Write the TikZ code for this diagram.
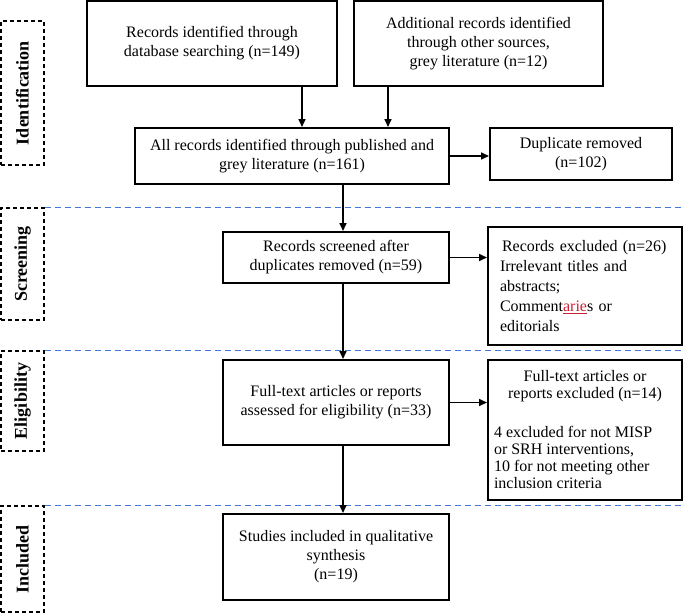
\documentclass[tikz,border=0pt]{standalone}
\usepackage{fontspec}
\setmainfont{Liberation Serif}
\usepackage{xcolor}
\usepackage{tikz}
\usetikzlibrary{arrows.meta}
\setlength{\parindent}{0pt}
\definecolor{sepblue}{RGB}{68,118,218}
\definecolor{spellred}{RGB}{200,30,50}
\tikzstyle{record}=[rectangle, draw=black, line width=2pt, align=center,
        inner sep=2pt, font=\fontsize{16}{19}\selectfont]
\tikzstyle{stage}=[rectangle, draw=black, line width=1.2pt, dash pattern=on 4pt off 3pt,
        minimum width=43pt, font=\bfseries\fontsize{18}{20}\selectfont]
\tikzstyle{flow}=[line width=1.6pt, -{Triangle[width=7pt,length=8pt]}]
\tikzstyle{divider}=[sepblue, line width=1.3pt, dash pattern=on 6pt off 4pt]

\begin{document}
\begin{tikzpicture}[x=1pt, y=-1pt]
        \useasboundingbox (0,0) rectangle (685,613);
        % stages on the left
        \node (ident) [stage, minimum height=144pt] at (22.5,93) {\rotatebox{90}{Identification}};
        \node (screen) [stage, minimum height=112pt] at (22.5,264) {\rotatebox{90}{Screening}};
        \node (elig) [stage, minimum height=100pt] at (22.5,401) {\rotatebox{90}{Eligibility}};
        \node (incl) [stage, minimum height=106pt] at (22.5,559) {\rotatebox{90}{Included}};
        \coordinate (edge) at (685,0);
        \coordinate (spine) at (343,0);
        \draw[divider] (screen.north east) -- (screen.north east -| edge);
        \draw[divider] (elig.north east) -- (elig.north east -| edge);
        \draw[divider] (incl.north east) -- (incl.north east -| edge);
        % records
        \node (dbsearch) [record, minimum width=250pt, minimum height=85pt] at (212,43.5)
        {Records identified through\\database searching (n=149)};
        \node (othersrc) [record, minimum width=249pt, minimum height=85pt] at (478.5,43.5)
        {Additional records identified\\through other sources,\\grey literature (n=12)};
        \node (allrec) [record, minimum width=314pt, minimum height=56pt] at (292,156)
        {All records identified through published and\\grey literature (n=161)};
        \node (dupl) [record, minimum width=182pt, minimum height=52pt] at (581,154)
        {Duplicate removed\\(n=102)};
        \node (screened) [record, minimum width=226pt, minimum height=51pt] at (336,257.5)
        {Records screened after\\duplicates removed (n=59)};
        \node (excl) [record, minimum width=194pt, minimum height=118pt, text width=170pt,
          align=left, font=\fontsize{16}{20}\selectfont] at (585,286)
        {\hspace*{2pt}Records excluded (n=26)\\Irrelevant titles and\\abstracts;\\
          Comment{\color{spellred}\underline{arie}}s or\\editorials};
        \node (fulltext) [record, minimum width=226pt, minimum height=85pt] at (336,402.5)
        {Full-text articles or reports\\assessed for eligibility (n=33)};
        \node (ftexcl) [record, minimum width=194pt, minimum height=140pt, text width=182pt,
          align=none, font=\fontsize{16}{17}\selectfont] at (585,430)
        {
          {\centering Full-text articles or\\reports excluded (n=14)\par}
          \vspace{22pt}
          {\raggedright 4 excluded for not MISP\\or SRH interventions,\\10 for not meeting other\\inclusion criteria\par}
        };
        \node (included) [record, minimum width=226pt, minimum height=86pt] at (336,557)
        {Studies included in qualitative\\synthesis\\(n=19)};
        % connectors
        \draw[flow] ([xshift=90pt]dbsearch.south) -- ([xshift=90pt]dbsearch.south |- allrec.north);
        \draw[flow] ([xshift=-90.5pt]othersrc.south) -- ([xshift=-90.5pt]othersrc.south |- allrec.north);
        \draw[flow] (allrec.east) -- (allrec.east -| dupl.west);
        \draw[flow] (allrec.south -| spine) -- (screened.north -| spine);
        \draw[flow] (screened.east) -- (screened.east -| excl.west);
        \draw[flow] (screened.south -| spine) -- (fulltext.north -| spine);
        \draw[flow] (fulltext.east) -- (fulltext.east -| ftexcl.west);
        \draw[flow] (fulltext.south -| spine) -- (included.north -| spine);
      \end{tikzpicture}
\end{document}
